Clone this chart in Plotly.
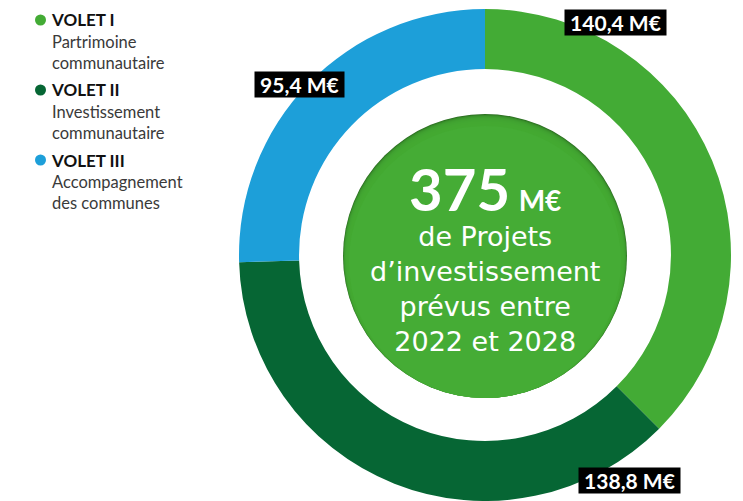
import plotly.graph_objects as go

W, H = 743, 501

# data
volets = ["VOLET I", "VOLET II", "VOLET III"]
descriptions = ["Partrimoine<br>communautaire", "Investissement<br>communautaire", "Accompagnement<br>des communes"]
montants = [140.4, 138.8, 95.4]
etiquettes = ["140,4 M€", "138,8 M€", "95,4 M€"]
couleurs = ["#43ab35", "#066634", "#1d9fd9"]

total_txt = "375"
centre_lignes = ["de Projets", "d’investissement", "prévus entre", "2022 et 2028"]


def px(x):
    return x / W


def py(y):
    return 1 - y / H


fig = go.Figure()

fig.add_trace(go.Pie(
    values=montants,
    labels=volets,
    marker=dict(colors=couleurs, line=dict(width=0)),
    sort=False,
    direction="clockwise",
    rotation=0,
    hole=0.756,
    textinfo="none",
    hoverinfo="label+value",
    showlegend=False,
    domain=dict(x=[px(238), px(732)], y=[0, 492 / H]),
))

shapes = []
# inner green disc with a soft shadow at the top
cx, cy, r = 485, 256, 142
shapes.append(dict(type="circle", xref="paper", yref="paper", layer="above",
                   x0=px(cx - r), x1=px(cx + r), y0=py(cy + r), y1=py(cy - r),
                   fillcolor="#2a6a20", line=dict(width=0)))
steps = [9, 7, 5.5, 4, 3, 2, 1.2, 0.5]
for d in steps:
    rr = r - d / 2
    ccy = cy + d / 2
    shapes.append(dict(type="circle", xref="paper", yref="paper", layer="above",
                       x0=px(cx - rr), x1=px(cx + rr), y0=py(ccy + rr), y1=py(ccy - rr),
                       fillcolor="#45ac35", opacity=0.35, line=dict(width=0)))
shapes.append(dict(type="circle", xref="paper", yref="paper", layer="above",
                   x0=px(cx - r + 6), x1=px(cx + r - 6), y0=py(cy + r), y1=py(cy - r + 12),
                   fillcolor="#45ac35", line=dict(width=0)))

annotations = []

# legend
leg_y = [20, 90, 160]
for nom, desc, col, y in zip(volets, descriptions, couleurs, leg_y):
    shapes.append(dict(type="circle", xref="paper", yref="paper",
                       x0=px(35), x1=px(46), y0=py(y + 5.5), y1=py(y - 5.5),
                       fillcolor=col, line=dict(width=0)))
    annotations.append(dict(x=px(49), y=py(y), xref="paper", yref="paper",
                            text="<b>" + nom + "</b>", showarrow=False,
                            xanchor="left", yanchor="middle",
                            font=dict(family="Lato", size=17, color="#111111")))
    annotations.append(dict(x=px(50), y=py(y + 10), xref="paper", yref="paper",
                            text=desc, showarrow=False, align="left",
                            xanchor="left", yanchor="top",
                            font=dict(family="Lato", size=16.5, color="#3a3a3a")))

# value labels
lab_pos = [(615, 22.5), (629.5, 480.5), (299, 84)]
for t, (x, y) in zip(etiquettes, lab_pos):
    annotations.append(dict(x=px(x), y=py(y), xref="paper", yref="paper",
                            text="<b>\u00a0" + t + "\u00a0</b>", showarrow=False,
                            xanchor="center", yanchor="middle",
                            bgcolor="#000000", borderpad=0,
                            font=dict(family="Lato", size=21, color="white")))

# centre text, one block
centre = ("<span style='font-family:Lato;font-size:58px'><b>" + total_txt + "</b></span> "
          "<span style='font-family:Lato;font-size:28px'><b>M€</b></span><br>"
          + "<br>".join(centre_lignes))
annotations.append(dict(x=px(485), y=py(255), xref="paper", yref="paper",
                        text=centre, showarrow=False, align="center",
                        xanchor="center", yanchor="middle",
                        font=dict(family="DejaVu Sans", size=27, color="white")))

fig.update_layout(
    width=W, height=H,
    margin=dict(l=0, r=0, t=0, b=0),
    paper_bgcolor="white",
    plot_bgcolor="white",
    shapes=shapes,
    annotations=annotations,
)

# no page margin around the figure
fig.write_html("out.html", config={"displayModeBar": False},
               post_script="document.body.style.margin='0';")
